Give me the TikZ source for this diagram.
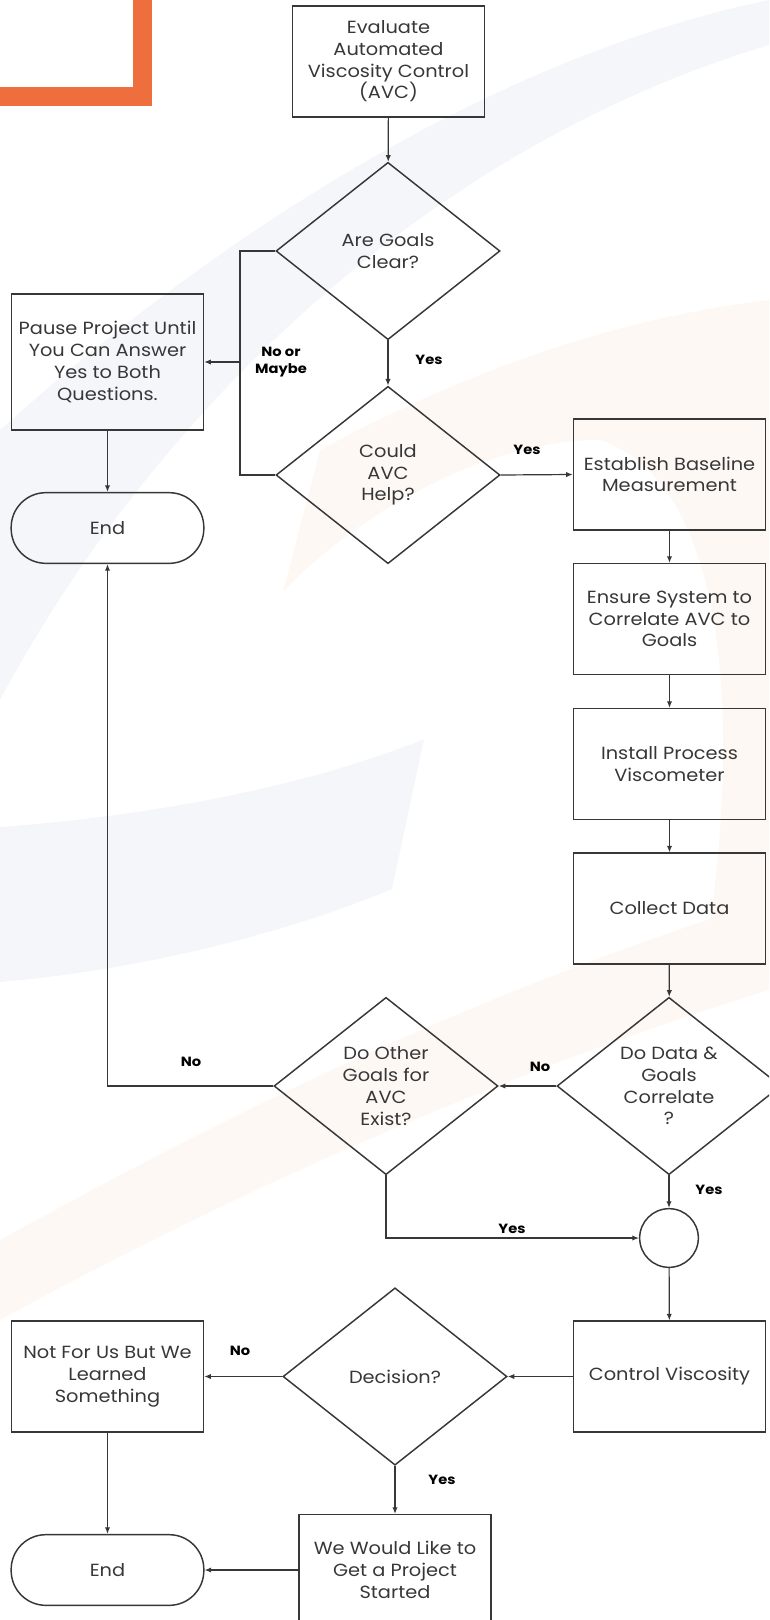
\documentclass[tikz,border=0pt]{standalone}
\usepackage{fontspec}
\setmainfont{Poppins}[FakeStretch=1.1]
\usepackage{xcolor}
\usetikzlibrary{arrows.meta,shapes.geometric,shapes.misc,positioning}

\definecolor{lineclr}{RGB}{55,55,55}
\definecolor{brandorange}{RGB}{239,110,61}
\definecolor{swooshblue}{RGB}{245,246,250}
\definecolor{swooshpeach}{RGB}{254,248,245}
\newcommand{\boxfont}{\fontsize{13.2}{16.3}\selectfont}
\newcommand{\tagfont}{\fontsize{10}{12.5}\selectfont\bfseries}

\begin{document}
\begin{tikzpicture}[x = .75pt, y = -.75pt, >={Latex[length=5pt,width=4pt]},
  procbox/.style = {draw = lineclr, line width = 1.1pt, minimum width = 144pt, minimum height = 83pt, align = center, font = \boxfont, text = lineclr},
  decision/.style = {draw = lineclr, line width = 1.1pt, diamond, minimum width = 168pt, minimum height = 133pt, inner sep = 0pt, align = center, font = \boxfont, text = lineclr},
  endbox/.style = {draw = lineclr, line width = 1.1pt, rectangle, rounded corners = 26pt, minimum width = 144.5pt, minimum height = 53pt, font = \boxfont, text = lineclr},
  joinpt/.style = {draw = lineclr, line width = 1.1pt, circle, minimum size = 44pt, inner sep = 0pt},
  tag/.style = {font = \tagfont, align = center, text = black},
  flow/.style = {->, draw = lineclr, line width = .9pt},
  line/.style = {draw = lineclr, line width = .9pt}]
\clip (0,0) rectangle (769,1620);
% background swooshes
\fill[swooshblue] (769,0) .. controls (480,60) and (200,250) .. (0,430) -- (0,700) .. controls (150,420) and (420,150) .. (769,45) -- cycle;
\fill[swooshblue] (0,827) .. controls (160,815) and (310,785) .. (424,739) -- (392,889) .. controls (270,940) and (120,972) .. (0,982) -- cycle;
\fill[swooshpeach] (283,592) -- (320,450) .. controls (450,380) and (600,320) .. (769,300) -- (769,990) -- (700,990) .. controls (750,700) and (720,480) .. (600,440) .. controls (480,440) and (350,520) .. (283,592) -- cycle;
\fill[swooshpeach] (0,1240) .. controls (200,1130) and (450,1000) .. (769,900) -- (769,990) .. controls (480,1080) and (220,1200) .. (0,1320) -- cycle;
% orange corner
\fill[brandorange] (0,87) rectangle (152,106);
\fill[brandorange] (133,0) rectangle (152,106);

\node[procbox] (evaluate) at (388.5,61.5) {Evaluate\\Automated\\Viscosity Control\\(AVC)};
\node[decision] (clear) at (388,251) {Are Goals\\Clear?};
\node[decision] (help) at (388,475) {Could\\AVC\\Help?};
\node[procbox, minimum height = 102pt] (pause) at (107.5,362) {Pause Project Until\\You Can Answer\\Yes to Both\\Questions.};
\node[endbox] (endtop) at (107.5,528) {End};
\node[procbox] (baseline) at (669.5,474.5) {Establish Baseline\\Measurement};
\node[procbox] (ensure) at (669.5,619) {Ensure System to\\Correlate AVC to\\Goals};
\node[procbox] (install) at (669.5,764) {Install Process\\Viscometer};
\node[procbox] (collect) at (669.5,908.5) {Collect Data};
\node[decision] (correlate) at (669,1086) {Do Data \&\\Goals\\Correlate\\?};
\node[decision] (others) at (386,1086) {Do Other\\Goals for\\AVC\\Exist?};
\node[joinpt] (join) at (669,1238) {};
\node[procbox] (control) at (669.5,1376.5) {Control Viscosity};
\node[decision] (decide) at (395,1376.5) {Decision?};
\node[procbox] (learned) at (107.5,1376.5) {Not For Us But We\\Learned\\Something};
\node[endbox] (endbottom) at (107.5,1570) {End};
\node[procbox] (started) at (395,1570) {We Would Like to\\Get a Project\\Started};

\coordinate (split) at (240,362);

\draw[flow] (evaluate) -- (clear);
\draw[flow] (clear) -- (help);
\draw[line] (clear.west) -| (split) |- (help.west);
\draw[flow] (split) -- (pause.east);
\draw[flow] (pause) -- (endtop);
\draw[flow] (help.east) -- (baseline.west);
\draw[flow] (baseline) -- (ensure);
\draw[flow] (ensure) -- (install);
\draw[flow] (install) -- (collect);
\draw[flow] (collect) -- (correlate);
\draw[flow] (correlate.west) -- (others.east);
\draw[flow] (others.west) -| (endtop.south);
\draw[flow] (correlate.south) -- (join.north);
\draw[flow] (others.south) |- (join.west);
\draw[flow] (join) -- (control);
\draw[flow] (control.west) -- (decide.east);
\draw[flow] (decide.west) -- (learned.east);
\draw[flow] (learned) -- (endbottom);
\draw[flow] (decide.south) -- (started.north);
\draw[flow] (started.west) -- (endbottom.east);

\node[tag] (tnomaybe) at (281,362) {No or\\Maybe};
\node[tag] (tyesclear) at (429,360) {Yes};
\node[tag] (tyeshelp) at (527,450) {Yes};
\node[tag] (tnoothers) at (191,1062) {No};
\node[tag] (tnocorr) at (540,1067) {No};
\node[tag] (tyescorr) at (709,1190) {Yes};
\node[tag] (tyesothers) at (512,1229) {Yes};
\node[tag] (tnodecide) at (240,1351) {No};
\node[tag] (tyesdecide) at (442,1480) {Yes};
\end{tikzpicture}
\end{document}
